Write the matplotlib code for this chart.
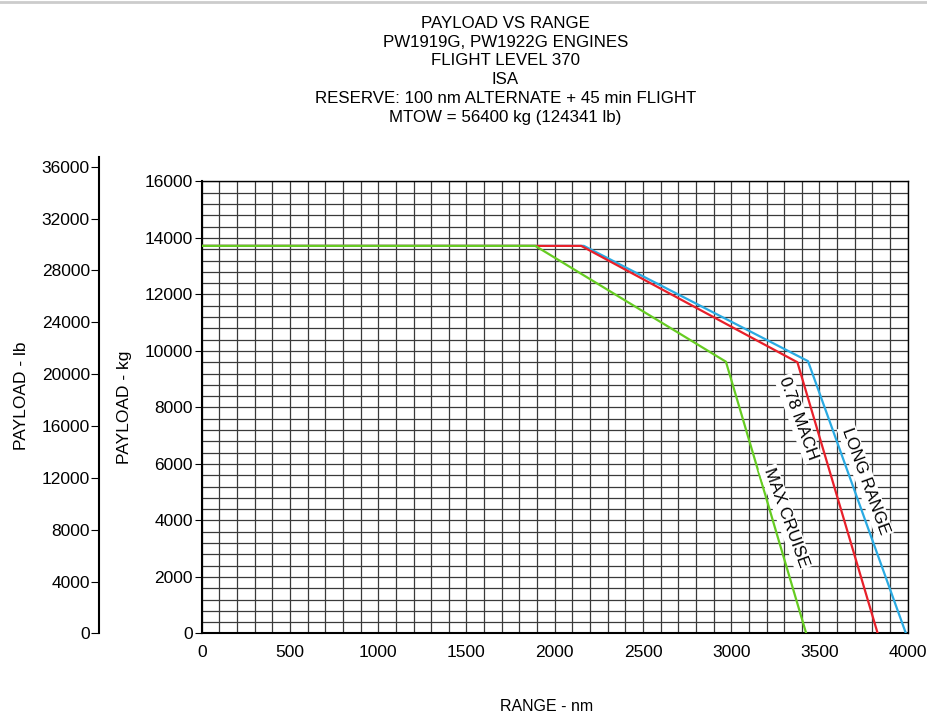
import numpy as np
import matplotlib
matplotlib.use("Agg")
import matplotlib.pyplot as plt
from matplotlib.ticker import MultipleLocator

plt.rcParams["font.family"] = ["Liberation Sans", "DejaVu Sans"]

# ===== 数据（从图上读出来的近似值）=====
title_lines = [
    "PAYLOAD VS RANGE",
    "PW1919G, PW1922G ENGINES",
    "FLIGHT LEVEL 370",
    "ISA",
    "RESERVE: 100 nm ALTERNATE + 45 min FLIGHT",
    "MTOW = 56400 kg (124341 lb)",
]

# 航程 nm / 商载 kg
max_cruise_range = [0, 1890, 2970, 3425]
max_cruise_payload = [13720, 13720, 9620, 0]

mach078_range = [0, 2150, 3375, 3830]
mach078_payload = [13720, 13720, 9600, 0]

long_range_range = [0, 2165, 3435, 3990]
long_range_payload = [13720, 13720, 9640, 0]

kg_ticks = list(range(0, 16001, 2000))
lb_ticks = list(range(0, 36001, 4000))
range_ticks = list(range(0, 4001, 500))

GREEN = "#66cc22"
RED = "#e8202a"
BLUE = "#2aaae2"

fig = plt.figure(figsize=(9.27, 7.15), dpi=100)

# 主坐标轴（kg）
ax = fig.add_axes([0.2176, 0.1140, 0.7616, 0.6322])
ax.set_xlim(0, 4000)
ax.set_ylim(0, 16000)
ax.xaxis.set_minor_locator(MultipleLocator(100))
ax.yaxis.set_minor_locator(MultipleLocator(400))
ax.set_xticks(range_ticks)
ax.set_yticks(kg_ticks)
ax.grid(True, which="both", color="#3a3a3a", linewidth=0.9)
ax.set_axisbelow(True)
for s in ax.spines.values():
    s.set_linewidth(1.0)
ax.spines["left"].set_linewidth(1.5)
ax.spines["bottom"].set_linewidth(1.5)
ax.tick_params(axis="y", which="major", length=5, width=0.8, labelsize=12.5, pad=1.5)
ax.tick_params(axis="x", which="major", length=0, labelsize=12.5, pad=8)
ax.tick_params(which="minor", length=0)

# 三条曲线：蓝在最下，绿在最上
ax.plot(long_range_range, long_range_payload, color=BLUE, lw=1.6, zorder=3)
ax.plot(mach078_range, mach078_payload, color=RED, lw=1.6, zorder=4)
ax.plot(max_cruise_range, max_cruise_payload, color=GREEN, lw=1.6, zorder=5)

box = dict(facecolor="white", edgecolor="none", pad=1.5)
ax.text(3380, 7600, "0.78 MACH", rotation=-70, ha="center", va="center",
        fontsize=12.2, bbox=box, zorder=6)
ax.text(3310, 4100, "MAX CRUISE", rotation=-70, ha="center", va="center",
        fontsize=12.2, bbox=box, zorder=6)
ax.text(3760, 5400, "LONG RANGE", rotation=-70, ha="center", va="center",
        fontsize=12.2, bbox=box, zorder=6)

ax.set_ylabel("PAYLOAD - kg", fontsize=12.5, labelpad=9)
fig.text(0.590, 0.002, "RANGE - nm", ha="center", va="bottom", fontsize=11.5)

# 左侧 lb 坐标轴（只保留一根竖线）
ax_lb = fig.add_axes([0.1068, 0.1140, 0.001, 0.6664])
ax_lb.set_ylim(0, 36750)
ax_lb.set_yticks(lb_ticks)
ax_lb.set_xticks([])
for k in ["top", "right", "bottom"]:
    ax_lb.spines[k].set_visible(False)
ax_lb.spines["left"].set_linewidth(1.5)
ax_lb.patch.set_visible(False)
ax_lb.tick_params(axis="y", length=6, width=0.8, labelsize=12.5, pad=0.5)
ax_lb.set_ylabel("PAYLOAD - lb", fontsize=12.5, labelpad=9)

# 标题
fig.text(0.545, 0.978, "\n".join(title_lines), ha="center", va="top",
         fontsize=12.2, linespacing=1.32)

# 顶部灰色细线
fig.add_artist(plt.Line2D([0, 1], [0.997, 0.997], color="#cccccc", lw=2))

fig.savefig("out.png", dpi=100)
